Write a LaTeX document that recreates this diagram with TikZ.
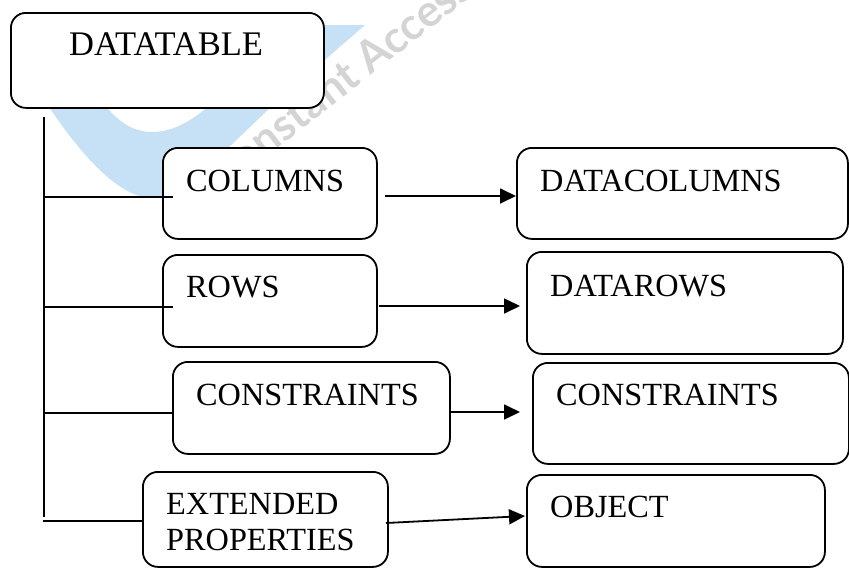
\documentclass[tikz,border=0pt]{standalone}
\usepackage{fontspec}
\setmainfont{Liberation Serif}
\newfontfamily\wmfont{Lato}
\usetikzlibrary{arrows.meta,calc}
\definecolor{wmblue}{RGB}{198,224,246}
\definecolor{wmgray}{RGB}{212,212,212}
\tikzset{
  box/.style={draw=black, fill=white, line width=1.8pt, rounded corners=15pt,
              inner sep=0pt, anchor=north west},
  lbl/.style={anchor=base west, inner sep=0pt, font=\fontsize{32.3}{36}\selectfont},
  biglbl/.style={lbl, font=\fontsize{34.5}{38}\selectfont},
  link/.style={line width=1.8pt},
  flow/.style={line width=1.8pt, -{Triangle[length=16pt,width=15pt]}},
}
% #1 name, #2 x, #3 y (top left), #4 width, #5 height
\newcommand\mkbox[5]{\node[box, minimum width=#4pt, minimum height=#5pt] (#1) at (#2,#3) {};}
\begin{document}
\begin{tikzpicture}[x=1pt,y=-1pt]
\useasboundingbox (0,0) rectangle (849,568);

% light blue emblem in the background
\fill[wmblue] (322,25) -- (365,25) -- (273,105)
  .. controls (210,165) and (180,198) .. (150,198)
  .. controls (110,196) and (60,130) .. (20,60) -- (20,25) -- (70,25)
  .. controls (85,80) and (110,132) .. (152,132)
  .. controls (180,132) and (205,112) .. (230,85) -- cycle;
\node[anchor=base west, rotate=38, inner sep=0pt, text=wmgray,
      font=\wmfont\bfseries\fontsize{44}{44}\selectfont] (wm) at (222,192) {Constant Access};

% boxes
\mkbox{dt}{10}{12}{313}{95}
\mkbox{col}{162}{147}{214}{91}
\mkbox{rows}{162}{254}{214}{92}
\mkbox{cons}{172}{361}{277}{92}
\mkbox{ext}{142}{471}{245}{95}
\mkbox{dcol}{516}{147}{331}{91}
\mkbox{drow}{526}{251}{316}{102}
\mkbox{dcons}{532}{362}{316}{101}
\mkbox{obj}{526}{474}{298}{92}

% labels
\node[biglbl] (dtl) at (69,55) {DATATABLE};
\node[lbl] (coll) at (186,191) {COLUMNS};
\node[lbl] (rowsl) at (186,297) {ROWS};
\node[lbl] (consl) at (196,405) {CONSTRAINTS};
\node[lbl] (extl1) at (166,514) {EXTENDED};
\node[lbl] (extl2) at (166,550) {PROPERTIES};
\node[lbl] (dcoll) at (540,191) {DATACOLUMNS};
\node[lbl] (drowl) at (550,296) {DATAROWS};
\node[lbl] (dconsl) at (556,405) {CONSTRAINTS};
\node[lbl] (objl) at (550,517) {OBJECT};

% trunk and branches
\coordinate (ttop) at (44,117);
\coordinate (tbot) at (44,517);
\coordinate (b1) at (44,197);  \coordinate (e1) at (173,197);
\coordinate (b2) at (44,307);  \coordinate (e2) at (173,307);
\coordinate (b3) at (44,413);
\coordinate (b4) at (43,521);
\draw[link] (ttop) -- (tbot);
\draw[link] (b1) -- (e1);
\draw[link] (b2) -- (e2);
\draw[link] (b3) -- (cons.west |- b3);
\draw[link] (b4) -- (ext.west |- b4);

% arrows to the right column
\coordinate (s1) at (385,196);
\coordinate (s2) at (379,306);  \coordinate (t2) at (520,306);
\coordinate (s3) at (449,412);  \coordinate (t3) at (520,412);
\coordinate (s4) at (386,523);  \coordinate (t4) at (525,516);
\draw[flow] (s1) -- (dcol.west |- s1);
\draw[flow] (s2) -- (t2);
\draw[flow] (s3) -- (t3);
\draw[flow] (s4) -- (t4);
\end{tikzpicture}
\end{document}
